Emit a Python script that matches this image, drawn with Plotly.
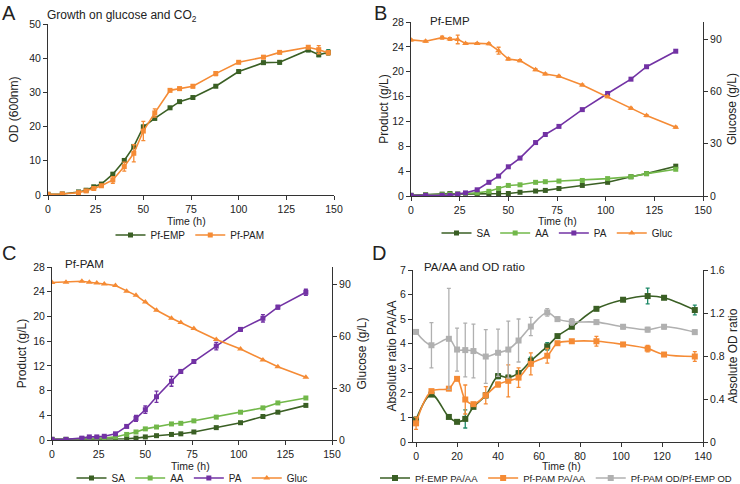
import plotly.graph_objects as go

# ---------------- data ----------------
# Panel A: growth (OD600)
time_a = [0, 7.5, 16, 20, 24, 28, 34, 40, 45, 50, 56, 64, 69, 76, 88, 100, 113, 121.5, 136.5, 142, 147]
od_emp = [0.2, 0.3, 0.9, 1.4, 2.4, 3.2, 6.1, 10.1, 14.2, 19.9, 22.4, 25.5, 27.3, 28.5, 31.8, 36.1, 38.7, 38.8, 42.4, 41.0, 41.7]
od_emp_err = [0.1, 0.1, 0.1, 0.1, 0.2, 0.2, 0.3, 0.4, 0.4, 0.5, 0.4, 0.3, 0.3, 0.3, 0.3, 0.4, 0.4, 0.5, 0.5, 0.5, 0.8]
od_pam = [0.2, 0.3, 0.7, 1.2, 1.9, 2.7, 4.4, 8.3, 12.2, 18.7, 24.0, 30.6, 31.1, 31.8, 35.5, 38.8, 40.3, 41.7, 43.2, 42.5, 41.6]
od_pam_err = [0.1, 0.1, 0.2, 0.2, 0.3, 0.4, 1.0, 1.3, 2.5, 2.8, 1.2, 0.4, 0.4, 0.5, 0.6, 0.3, 0.4, 0.3, 0.4, 1.2, 0.6]

# Panels B-D sampling times
time_bcd = [0, 7.5, 16, 20, 24, 28, 34, 40, 45, 50, 56, 64, 69, 76, 88, 101, 113, 121, 136]

# Panel B: Pf-EMP
sa_emp = [0.1, 0.2, 0.3, 0.4, 0.3, 0.3, 0.3, 0.3, 0.4, 0.4, 0.6, 0.8, 0.9, 1.2, 1.7, 2.2, 3.1, 3.6, 4.8]
aa_emp = [0.1, 0.15, 0.2, 0.3, 0.3, 0.4, 0.5, 0.75, 1.2, 1.7, 1.8, 2.2, 2.3, 2.4, 2.5, 2.8, 3.1, 3.6, 4.3]
pa_emp = [0.1, 0.1, 0.1, 0.1, 0.3, 0.5, 1.0, 2.2, 3.2, 4.7, 6.1, 8.6, 9.9, 11.2, 13.9, 16.5, 18.8, 20.8, 23.3]
gluc_emp = [89.7, 88.9, 91.0, 90.2, 90.0, 87.7, 87.7, 87.5, 83.5, 78.7, 77.8, 72.6, 70.1, 68.8, 63.8, 57.0, 50.4, 46.2, 39.5]
gluc_emp_err = [0.5, 0.5, 0.8, 0.8, 2.5, 0.5, 0.5, 0.5, 2.0, 0.6, 0.6, 0.5, 0.5, 0.5, 0.5, 0.5, 0.5, 0.5, 0.5]

# Panel C: Pf-PAM
sa_pam = [0.1, 0.1, 0.2, 0.2, 0.1, 0.1, 0.2, 0.2, 0.3, 0.5, 0.7, 0.9, 1.0, 1.3, 2.0, 2.8, 3.8, 4.5, 5.6]
aa_pam = [0.1, 0.1, 0.1, 0.2, 0.3, 0.3, 0.5, 0.9, 1.3, 1.8, 2.1, 2.6, 2.7, 3.1, 3.7, 4.5, 5.2, 6.0, 6.8]
pa_pam = [0.1, 0.1, 0.3, 0.5, 0.5, 0.6, 1.0, 2.2, 3.5, 4.9, 7.0, 9.5, 11.1, 12.7, 15.2, 17.9, 19.7, 21.5, 23.9]
pa_pam_err = [0.05, 0.05, 0.1, 0.1, 0.1, 0.1, 0.2, 0.2, 0.5, 0.6, 0.9, 0.8, 0.3, 0.3, 0.6, 0.3, 0.6, 0.3, 0.5]
gluc_pam = [91.0, 91.2, 91.8, 91.2, 90.8, 90.2, 89.3, 86.0, 83.6, 79.7, 75.0, 70.4, 67.9, 64.4, 58.1, 52.6, 46.3, 42.4, 36.3]

# Panel D: ratios
ratio_emp = [0.91, 1.93, 1.02, 0.82, 0.94, 1.43, 1.90, 2.68, 2.62, 2.80, 3.30, 3.89, 4.31, 4.69, 5.42, 5.79, 5.94, 5.87, 5.37]
ratio_emp_err = [0.1, 0.05, 0.05, 0.05, 0.37, 0.05, 0.1, 0.1, 0.1, 0.1, 0.15, 0.15, 0.05, 0.05, 0.05, 0.05, 0.32, 0.05, 0.2]
ratio_pam = [0.76, 2.07, 2.17, 2.57, 1.73, 1.54, 1.90, 2.34, 2.49, 2.62, 3.18, 3.51, 4.02, 4.10, 4.10, 3.97, 3.80, 3.56, 3.48]
ratio_pam_err = [0.25, 0.05, 0.05, 0.05, 0.59, 0.05, 0.35, 0.1, 0.65, 0.4, 0.45, 0.3, 0.05, 0.05, 0.2, 0.05, 0.13, 0.05, 0.2]
od_ratio = [1.024, 0.90, 0.96, 0.86, 0.855, 0.846, 0.795, 0.83, 0.86, 0.944, 1.074, 1.205, 1.143, 1.118, 1.115, 1.072, 1.045, 1.072, 1.022]
od_ratio_err = [0.0, 0.21, 0.47, 0.2, 0.25, 0.25, 0.25, 0.22, 0.265, 0.2, 0.085, 0.035, 0.02, 0.03, 0.02, 0.02, 0.02, 0.02, 0.02]

glucose_ticks = [0, 30, 60, 90]
od_ratio_tickvals = [0, 0.4, 0.8, 1.2, 1.6]
od_ratio_ticktext = ["0", "0.4", "0.8", "1.2", "1.6"]

# ---------------- style ----------------
W, H = 740, 484
FONT = "Liberation Sans, Arial, sans-serif"
DKGREEN = "#3a5f24"
LTGREEN = "#72b84a"
PURPLE = "#7232a4"
ORANGE = "#f58b35"
GRAY = "#b0b0b0"
TEAL = "#1f8a68"
AX = "#333333"
TXT = "#222222"


def px(x):
    return x / W


def py(y):
    return 1 - y / H


def err(vals, color):
    return dict(type="data", array=vals, visible=True, color=color, thickness=1.3, width=2)


fig = go.Figure()


def add(x, y, name, color, xa, ya, legend, symbol="square", size=5, e=None, ecolor=None, shape="linear"):
    fig.add_trace(go.Scatter(
        x=x, y=y, name=name, mode="lines+markers",
        line=dict(color=color, width=1.6, shape=shape, smoothing=1.0),
        marker=dict(symbol=symbol, size=size, color=color),
        error_y=err(e, ecolor or color) if e is not None else None,
        xaxis=xa, yaxis=ya, legend=legend,
    ))


# Panel A
add(time_a, od_emp, "Pf-EMP", DKGREEN, "x", "y", "legend", e=od_emp_err, ecolor=TEAL)
add(time_a, od_pam, "Pf-PAM", ORANGE, "x", "y", "legend", e=od_pam_err)

# Panel B
add(time_bcd, sa_emp, "SA", DKGREEN, "x2", "y2", "legend2")
add(time_bcd, aa_emp, "AA", LTGREEN, "x2", "y2", "legend2")
add(time_bcd, pa_emp, "PA", PURPLE, "x2", "y2", "legend2")
add(time_bcd, gluc_emp, "Gluc", ORANGE, "x2", "y3", "legend2", symbol="triangle-up", size=6, e=gluc_emp_err)

# Panel C
add(time_bcd, sa_pam, "SA", DKGREEN, "x3", "y4", "legend3")
add(time_bcd, aa_pam, "AA", LTGREEN, "x3", "y4", "legend3")
add(time_bcd, pa_pam, "PA", PURPLE, "x3", "y4", "legend3", e=pa_pam_err)
add(time_bcd, gluc_pam, "Gluc", ORANGE, "x3", "y5", "legend3", symbol="triangle-up", size=6)

# Panel D
add(time_bcd, ratio_emp, "Pf-EMP PA/AA", DKGREEN, "x4", "y6", "legend4", size=6, e=ratio_emp_err, ecolor=TEAL, shape="spline")
add(time_bcd, ratio_pam, "Pf-PAM PA/AA", ORANGE, "x4", "y6", "legend4", size=6, e=ratio_pam_err, shape="spline")
add(time_bcd, od_ratio, "Pf-PAM OD/Pf-EMP OD", GRAY, "x4", "y7", "legend4", size=6, e=od_ratio_err, shape="spline")

axis_common = dict(showline=True, linecolor=AX, linewidth=1, ticks="outside", ticklen=4,
                   tickcolor=AX, showgrid=False, zeroline=False,
                   tickfont=dict(size=10.5, color=TXT, family=FONT))


def ttl(text, standoff, size=12):
    return dict(text=text, standoff=standoff, font=dict(size=size, family=FONT, color=TXT))


fig.update_layout(
    width=W, height=H, margin=dict(l=0, r=0, t=0, b=0, autoexpand=False),
    paper_bgcolor="white", plot_bgcolor="white",
    font=dict(family=FONT, size=10, color=TXT),
    xaxis=dict(domain=[px(48), px(334)], range=[0, 150], dtick=25, anchor="y", **axis_common),
    yaxis=dict(domain=[py(195), py(24)], range=[0, 50], dtick=10, anchor="x",
               title=ttl("OD (600nm)", 8), **axis_common),
    xaxis2=dict(domain=[px(411), px(703)], range=[0, 150], dtick=25, anchor="y2", **axis_common),
    yaxis2=dict(domain=[py(196), py(22)], range=[0, 28], dtick=4, anchor="x2",
                title=ttl("Product (g/L)", 1), **axis_common),
    yaxis3=dict(overlaying="y2", side="right", range=[0, 100], tickvals=glucose_ticks, anchor="x2",
                title=ttl("Glucose (g/L)", 6), **axis_common),
    xaxis3=dict(domain=[px(52), px(332)], range=[0, 150], dtick=25, anchor="y4", **axis_common),
    yaxis4=dict(domain=[py(440), py(267)], range=[0, 28], dtick=4, anchor="x3",
                title=ttl("Product (g/L)", 4), **axis_common),
    yaxis5=dict(overlaying="y4", side="right", range=[0, 100], tickvals=glucose_ticks, anchor="x3",
                title=ttl("Glucose (g/L)", 7), **axis_common),
    xaxis4=dict(domain=[px(413), px(703)], range=[-1.5, 140], tick0=0, dtick=20, anchor="y6", **axis_common),
    yaxis6=dict(domain=[py(442), py(270)], range=[0, 7], dtick=1, anchor="x4",
                title=ttl("Absolute ratio PA/AA", 0), **axis_common),
    yaxis7=dict(overlaying="y6", side="right", range=[0, 1.6], tickvals=od_ratio_tickvals,
                ticktext=od_ratio_ticktext, anchor="x4",
                title=ttl("Absolute OD ratio", 4), **axis_common),
    showlegend=True,
)

leg_common = dict(orientation="h", xanchor="center", yanchor="middle",
                  bgcolor="rgba(0,0,0,0)", itemwidth=30, tracegroupgap=0)
leg_font = dict(size=10, family=FONT, color=TXT)
fig.update_layout(
    legend=dict(x=px(190), y=py(235), font=leg_font, **leg_common),
    legend2=dict(x=px(557), y=py(233), font=leg_font, **leg_common),
    legend3=dict(x=px(192), y=py(478), font=leg_font, **leg_common),
    legend4=dict(x=px(556), y=py(478), font=dict(size=9.5, family=FONT, color=TXT), **leg_common),
)


def ann(text, x, y, size=10, xanchor="left", yanchor="middle"):
    fig.add_annotation(text=text, x=px(x), y=py(y), xref="paper", yref="paper",
                       showarrow=False, xanchor=xanchor, yanchor=yanchor,
                       font=dict(size=size, family=FONT, color=TXT))


# panel letters
ann("A", 0, 0, size=20, yanchor="top")
ann("B", 372, 0, size=20, yanchor="top")
ann("C", 0, 240, size=20, yanchor="top")
ann("D", 370, 240, size=20, yanchor="top")

# panel titles
ann("Growth on glucose and CO<sub>2</sub>", 45, 16, size=12)
ann("Pf-EMP", 428, 21, size=11.5)
ann("Pf-PAM", 63, 264, size=11.5)
ann("PA/AA and OD ratio", 422, 267, size=11.5)

# x-axis titles
ann("Time (h)", 187, 221, size=10.5, xanchor="center")
ann("Time (h)", 557, 221.5, size=10.5, xanchor="center")
ann("Time (h)", 190, 466, size=10.5, xanchor="center")
ann("Time (h)", 561, 466, size=10.5, xanchor="center")

fig.write_html("out.html", config={"displayModeBar": False},
               post_script="document.body.style.margin='0px';")
